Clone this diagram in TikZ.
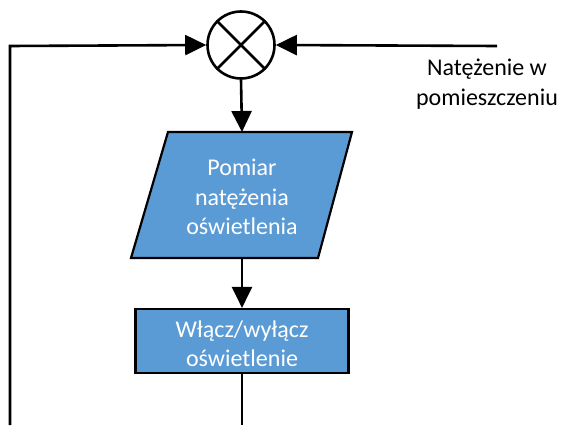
\documentclass[tikz,border=0pt]{standalone}
\usepackage{fontspec}
\setmainfont{Carlito}
\usetikzlibrary{arrows.meta}
\definecolor{boxblue}{HTML}{5B9BD5}
\tikzset{
  conn/.style={line width=2.6pt, -{Triangle[length=21pt,width=20pt]}},
  plainline/.style={line width=2.6pt},
  lbl/.style={font=\fontsize{24}{29.5}\selectfont, align=center, inner sep=0pt},
  boxtxt/.style={lbl, text=white},
}
\begin{document}
\begin{tikzpicture}[x=1pt,y=-1pt]
\useasboundingbox (0,0) rectangle (561,425);
% summing junction
\node[circle, draw, line width=2.6pt, fill=white, minimum size=67pt, inner sep=0pt] (sum) at (241,45) {};
\draw[line width=2.6pt] (sum.north west) -- (sum.south east) (sum.north east) -- (sum.south west);
% parallelogram
\coordinate (ptl) at (168,132);
\coordinate (ptr) at (352,132);
\coordinate (pbr) at (318,258);
\coordinate (pbl) at (131,258);
\draw[line width=2.2pt, fill=boxblue] (ptl) -- (ptr) -- (pbr) -- (pbl) -- cycle;
\node[boxtxt] (meas) at (242,197) {Pomiar\\natężenia\\oświetlenia};
\coordinate (ptop) at (242,132);
\coordinate (pbot) at (242,258);
% rectangle
\node[draw, line width=2.2pt, fill=boxblue, minimum width=213pt, minimum height=64pt, inner sep=0pt] (sw) at (242,341) {};
\node[boxtxt] (swt) at (242,344) {Włącz/wyłącz\\oświetlenie};
% outside label
\node[lbl] (ext) at (487,84) {Natężenie w\\pomieszczeniu};
% connectors
\coordinate (rin) at (497,46);
\coordinate (fb0) at (242,425);
\coordinate (lb) at (10,425);
\coordinate (lt) at (10,46);
\draw[conn] (rin) -- (sum.east);
\draw[conn] (lb) -- (lt) -- (sum.west);
\draw[conn] (sum.south) -- (ptop);
\draw[conn] (pbot) -- (sw.north);
\draw[plainline] (sw.south) -- (fb0);
\end{tikzpicture}
\end{document}
